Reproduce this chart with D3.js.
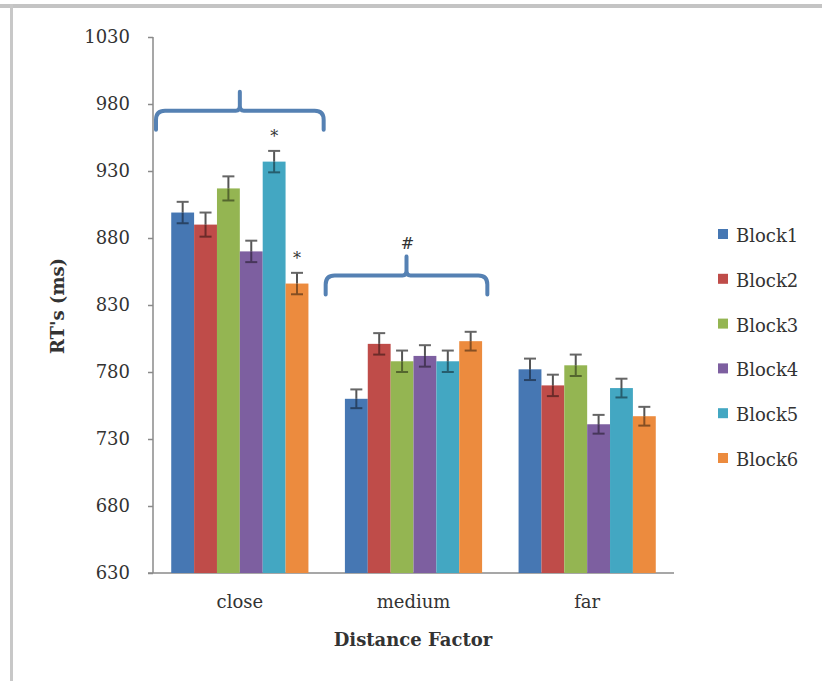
<!DOCTYPE html>
<html>
<head>
<meta charset="utf-8">
<script src="https://cdn.jsdelivr.net/npm/d3@7"></script>
<style>
  body { margin: 0; background: #fff; }
  text { font-family: "DejaVu Serif", serif; fill: #333; }
</style>
</head>
<body>
<div id="chart"></div>
<script>
// data
var groups = ["close", "medium", "far"]
var blocks = ["Block1", "Block2", "Block3", "Block4", "Block5", "Block6"]
var colors = ["#4677b3", "#bf4c49", "#94b552", "#7d5fa0", "#43a7c2", "#ec8b3e"]
var closeRT = [899, 890, 917, 870, 937, 846]
var mediumRT = [760, 801, 788, 792, 788, 803]
var farRT = [782, 770, 785, 741, 768, 747]
var closeErr = [8, 9, 9, 8, 8, 8]
var mediumErr = [7, 8, 8, 8, 8, 7]
var farErr = [8, 8, 8, 7, 7, 7]
var yTicks = [630, 680, 730, 780, 830, 880, 930, 980, 1030]
// significance marks: [group, block index]
var stars = [["close", 4], ["close", 5]]
// braces: [group, level in ms, label]
var braces = [["close", 975, ""], ["medium", 852, "#"]]

var values = [closeRT, mediumRT, farRT]
var errors = [closeErr, mediumErr, farErr]

var width = 822
var height = 681

var svg = d3.select("#chart")
  .append("svg")
  .attr("width", width)
  .attr("height", height)

// picture frame
svg.append("rect")
  .attr("x", 0).attr("y", 4).attr("width", width).attr("height", 4)
  .attr("fill", "#c4c4c4")
svg.append("rect")
  .attr("x", 10).attr("y", 4).attr("width", 3).attr("height", height - 4)
  .attr("fill", "#c8c8c8")

// scales
var x0 = d3.scaleBand()
  .domain(groups)
  .range([153, 674])
  .paddingInner(0.21)
  .paddingOuter(0.105)

var x1 = d3.scaleBand()
  .domain(blocks)
  .range([0, x0.bandwidth()])

var y = d3.scaleLinear()
  .domain([630, 1030])
  .range([573, 37])

// y axis
var yAxis = svg.append("g")
  .attr("transform", "translate(153,0)")
  .call(d3.axisLeft(y).tickValues(yTicks).tickFormat(d3.format("d")).tickSize(5).tickPadding(18))
yAxis.selectAll("path, line").attr("stroke", "#8a8a8a").attr("stroke-width", 1.5)
yAxis.select(".domain").attr("d", "M0,37V573")
yAxis.selectAll("text")
  .attr("font-family", "DejaVu Serif")
  .attr("font-size", "18px")
  .attr("fill", "#333")

// x axis
var xAxis = svg.append("g")
  .attr("transform", "translate(0,573)")
  .call(d3.axisBottom(x0).tickSize(0).tickPadding(22))
xAxis.select(".domain").attr("d", "M148,0H674").attr("stroke", "#8a8a8a").attr("stroke-width", 1.5)
xAxis.selectAll("text")
  .attr("font-family", "DejaVu Serif")
  .attr("font-size", "18px")
  .attr("fill", "#333")

// bars
var rows = []
groups.forEach(function(g, gi) {
  blocks.forEach(function(b, bi) {
    rows.push({group: g, block: b, bi: bi, value: values[gi][bi], err: errors[gi][bi]})
  })
})

var bars = svg.append("g")
bars.selectAll("rect")
  .data(rows)
  .enter()
  .append("rect")
  .attr("x", function(d) { return x0(d.group) + x1(d.block) })
  .attr("y", function(d) { return y(d.value) })
  .attr("width", x1.bandwidth())
  .attr("height", function(d) { return y(630) - y(d.value) })
  .attr("fill", function(d) { return colors[d.bi] })

// error bars
var eb = svg.append("g")
rows.forEach(function(d) {
  var cx = x0(d.group) + x1(d.block) + x1.bandwidth() / 2
  var dark = d3.color(colors[d.bi]).darker(1.6)
  // upper half, outside the bar
  eb.append("line")
    .attr("x1", cx).attr("x2", cx)
    .attr("y1", y(d.value + d.err)).attr("y2", y(d.value))
    .attr("stroke", "#555").attr("stroke-width", 2)
  eb.append("line")
    .attr("x1", cx - 6).attr("x2", cx + 6)
    .attr("y1", y(d.value + d.err)).attr("y2", y(d.value + d.err))
    .attr("stroke", "#666").attr("stroke-width", 2)
  // lower half, over the bar
  eb.append("line")
    .attr("x1", cx).attr("x2", cx)
    .attr("y1", y(d.value)).attr("y2", y(d.value - d.err))
    .attr("stroke", dark).attr("stroke-width", 2)
  eb.append("line")
    .attr("x1", cx - 6).attr("x2", cx + 6)
    .attr("y1", y(d.value - d.err)).attr("y2", y(d.value - d.err))
    .attr("stroke", dark).attr("stroke-width", 2)
})

// asterisks
stars.forEach(function(s) {
  var gi = groups.indexOf(s[0])
  var top = values[gi][s[1]] + errors[gi][s[1]]
  svg.append("text")
    .attr("x", x0(s[0]) + x1(blocks[s[1]]) + x1.bandwidth() / 2)
    .attr("y", y(top) - 9)
    .attr("text-anchor", "middle")
    .attr("font-size", "16px")
    .attr("fill", "#222")
    .text("*")
})

// braces
braces.forEach(function(b) {
  var xa = x0(b[0]) - x0.step() * x0.paddingInner() / 2 + 3
  var xb = xa + x0.step() - 6
  if (b[0] == "medium") { xa -= 4; xb -= 10 }
  var xm = (xa + xb) / 2
  var yh = y(b[1])
  var r = 9
  var p = "M" + xa + "," + (yh + 19) +
    "L" + xa + "," + (yh + r) +
    "Q" + xa + "," + yh + " " + (xa + r) + "," + yh +
    "L" + (xm - 4) + "," + yh +
    "Q" + xm + "," + yh + " " + xm + "," + (yh - 5) +
    "L" + xm + "," + (yh - 19) +
    "M" + xm + "," + (yh - 5) +
    "Q" + xm + "," + yh + " " + (xm + 4) + "," + yh +
    "L" + (xb - r) + "," + yh +
    "Q" + xb + "," + yh + " " + xb + "," + (yh + r) +
    "L" + xb + "," + (yh + 19)
  svg.append("path")
    .attr("d", p)
    .attr("fill", "none")
    .attr("stroke", "#5581b3")
    .attr("stroke-width", 4)
    .attr("stroke-linecap", "round")
  if (b[2] != "") {
    svg.append("text")
      .attr("x", xm + 1)
      .attr("y", yh - 27)
      .attr("text-anchor", "middle")
      .attr("font-size", "16px")
      .attr("fill", "#222")
      .text(b[2])
  }
})

// axis titles
svg.append("text")
  .attr("transform", "translate(64,306) rotate(-90)")
  .attr("text-anchor", "middle")
  .attr("font-size", "18px")
  .attr("font-weight", "bold")
  .attr("fill", "#222")
  .text("RT's (ms)")

svg.append("text")
  .attr("x", 413)
  .attr("y", 646)
  .attr("text-anchor", "middle")
  .attr("font-size", "18px")
  .attr("font-weight", "bold")
  .attr("fill", "#222")
  .text("Distance Factor")

// legend
var legend = svg.append("g")
  .selectAll("g")
  .data(blocks)
  .enter()
  .append("g")
  .attr("transform", function(d, i) { return "translate(718," + (236 + i * 44.8) + ")" })
legend.append("rect")
  .attr("x", 0).attr("y", -7)
  .attr("width", 10).attr("height", 10)
  .attr("fill", function(d, i) { return colors[i] })
legend.append("text")
  .attr("x", 18)
  .attr("y", 6)
  .attr("font-size", "18px")
  .attr("fill", "#333")
  .text(function(d) { return d })
</script>
</body>
</html>
